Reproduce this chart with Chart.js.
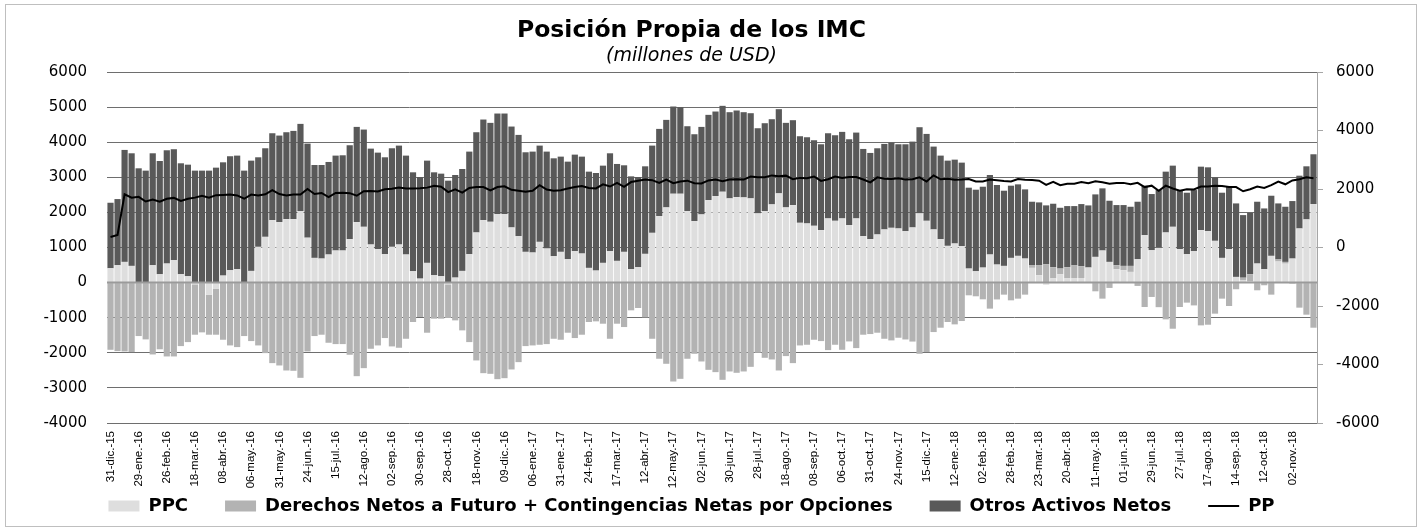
<!DOCTYPE html>
<html>
<head>
<meta charset="utf-8">
<script src="https://cdn.jsdelivr.net/npm/chart.js@4.4.1/dist/chart.umd.min.js"></script>
<style>
  html, body { margin: 0; padding: 0; background: #ffffff; }
  #wrap { width: 1423px; height: 531px; }
</style>
</head>
<body>
<div id="wrap"><canvas id="c" width="1423" height="531"></canvas></div>
<script>
// Tick labels shown on the category axis (every 4th observation)
const tickLabels = ['31-dic.-15','29-ene.-16','26-feb.-16','18-mar.-16','08-abr.-16','06-may.-16','31-may.-16','24-jun.-16','15-jul.-16','12-ago.-16','02-sep.-16','30-sep.-16','28-oct.-16','18-nov.-16','09-dic.-16','06-ene.-17','31-ene.-17','24-feb.-17','17-mar.-17','12-abr.-17','12-may.-17','02-jun.-17','30-jun.-17','28-jul.-17','18-ago.-17','08-sep.-17','06-oct.-17','31-oct.-17','24-nov.-17','15-dic.-17','12-ene.-18','02-feb.-18','28-feb.-18','23-mar.-18','20-abr.-18','11-may.-18','01-jun.-18','29-jun.-18','27-jul.-18','17-ago.-18','14-sep.-18','12-oct.-18','02-nov.-18'];

// PPC (millones de USD)
const ppc = [409,495,590,476,0,0,495,238,543,638,
238,181,-50,0,-343,-171,200,352,381,0,
333,1019,1304,1780,1723,1809,1809,2037,1280,704,
685,800,914,914,1238,1723,1590,1085,952,809,
1019,1085,800,324,114,562,210,181,-50,143,
333,809,1428,1780,1733,1952,1952,1571,1323,876,
857,1161,971,752,876,666,895,828,419,343,
562,895,619,876,381,438,819,1418,1894,2142,
2532,2532,2037,1752,1942,2351,2466,2589,2399,2437,
2427,2399,1971,2037,2228,2542,2142,2209,1704,1685,
1619,1495,1828,1761,1828,1638,1828,1323,1238,1371,
1514,1561,1542,1466,1571,1971,1761,1514,1238,1047,
1114,1038,400,324,428,800,514,476,704,762,
685,420,210,-60,120,240,120,130,130,430,
733,914,590,381,352,305,666,1352,923,990,
1428,1590,952,809,895,1495,1466,1190,704,952,
162,60,30,543,381,762,600,540,685,1542,
1800,2237];

// Derechos Netos a Futuro + Contingencias Netas por Opciones
const derechos = [-1914,-1952,-1961,-1980,-1523,-1618,-2047,-1900,-2104,-2104,
-1809,-1695,-1435,-1418,-1142,-1314,-1628,-1790,-1837,-1523,
-1666,-1790,-2009,-2294,-2361,-2504,-2513,-2713,-1961,-1523,
-1485,-1714,-1752,-1752,-2056,-2666,-2437,-1885,-1790,-1580,
-1818,-1856,-1600,-1123,-980,-1428,-1028,-1028,-959,-1076,
-1361,-1695,-2218,-2580,-2599,-2751,-2723,-2475,-2266,-1809,
-1790,-1771,-1752,-1600,-1628,-1428,-1580,-1485,-1123,-1104,
-1171,-1600,-1171,-1266,-790,-724,-990,-1600,-2170,-2313,
-2818,-2742,-2170,-2028,-2247,-2485,-2551,-2770,-2532,-2570,
-2532,-2400,-2000,-2142,-2190,-2504,-2094,-2294,-1790,-1771,
-1628,-1666,-1923,-1771,-1914,-1676,-1866,-1485,-1466,-1428,
-1600,-1647,-1571,-1620,-1680,-2028,-1980,-1409,-1285,-1123,
-1190,-1095,-362,-390,-476,-742,-480,-343,-505,-457,
-343,80,290,520,320,160,320,360,340,0,
-248,-457,-152,114,124,171,-95,-695,-409,-700,
-1047,-1314,-695,-571,-650,-1219,-1200,-885,-457,-666,
-190,80,210,-219,-76,-343,60,50,-30,-714,
-914,-1285];

// Otros Activos Netos
const otros = [1866,1885,3190,3208,3256,3190,3189,3227,3227,3162,
3161,3179,3190,3190,3190,3275,3227,3248,3237,3190,
3142,2551,2523,2475,2466,2475,2513,2485,2680,2647,
2666,2637,2704,2713,2675,2713,2770,2732,2751,2761,
2808,2818,2818,2818,2894,2913,2932,2923,2904,2922,
2904,2923,2856,2866,2818,2865,2865,2875,2885,2837,
2875,2742,2761,2789,2713,2780,2751,2761,2742,2780,
2770,2789,2761,2466,2646,2570,2494,2485,2485,2494,
2485,2466,2418,2475,2494,2428,2408,2447,2456,2466,
2428,2427,2427,2504,2427,2399,2409,2418,2466,2456,
2437,2446,2427,2437,2466,2446,2446,2485,2456,2456,
2437,2428,2399,2475,2446,2456,2475,2361,2380,2428,
2389,2380,2304,2323,2304,2265,2266,2142,2057,2037,
1971,1804,1785,1680,1807,1732,1740,1690,1767,1769,
1780,1771,1742,1714,1733,1685,1638,1409,1600,1647,
1733,1742,1685,1752,1742,1808,1818,1809,1857,1780,
2094,1783,1750,1761,1732,1713,1596,1571,1638,1504,
1513,1419];

// PP (eje derecho)
const pp = [361,428,1819,1704,1733,1572,1637,1565,1666,1696,
1590,1665,1705,1772,1705,1790,1799,1810,1781,1667,
1809,1780,1818,1961,1828,1780,1809,1809,1999,1828,
1866,1723,1866,1875,1857,1770,1923,1932,1913,1990,
2009,2047,2018,2019,2028,2047,2114,2076,1895,1989,
1876,2037,2066,2066,1952,2066,2094,1971,1942,1904,
1942,2132,1980,1941,1961,2018,2066,2104,2038,2019,
2161,2084,2209,2076,2237,2284,2323,2303,2209,2323,
2199,2256,2285,2199,2189,2294,2323,2266,2323,2333,
2323,2426,2398,2399,2465,2437,2457,2333,2380,2370,
2428,2275,2332,2427,2380,2408,2408,2323,2228,2399,
2351,2342,2370,2321,2337,2399,2256,2466,2333,2352,
2313,2323,2342,2257,2256,2323,2300,2275,2256,2342,
2313,2304,2285,2140,2247,2132,2180,2180,2237,2199,
2265,2228,2180,2209,2209,2161,2209,2066,2114,1937,
2114,2018,1942,1990,1987,2084,2084,2114,2104,2066,
2066,1923,1990,2085,2037,2132,2256,2161,2293,2332,
2399,2371];

const categories = ppc.map((v, i) => (i % 4 === 0 && tickLabels[i / 4]) ? tickLabels[i / 4] : '');

const frame = {
  id: 'frame',
  beforeDraw(chart) {
    const c = chart.ctx;
    c.save();
    c.fillStyle = '#ffffff';
    c.fillRect(0, 0, chart.width, chart.height);
    c.strokeStyle = '#bfbfbf';
    c.lineWidth = 1;
    c.strokeRect(5.5, 4.5, chart.width - 12, chart.height - 9);
    c.restore();
  }
};
const zeroLine = {
  id: 'zeroLine',
  afterDatasetsDraw(chart) {
    const y = chart.scales.y.getPixelForValue(0);
    const a = chart.chartArea;
    const c = chart.ctx;
    c.save();
    c.strokeStyle = '#9a9a9a';
    c.lineWidth = 2;
    c.beginPath();
    c.moveTo(a.left, y);
    c.lineTo(a.right, y);
    c.stroke();
    c.restore();
  }
};

const tickFont = { family: "'DejaVu Sans', Verdana, sans-serif", size: 15 };
const plainNum = (v) => String(v);

new Chart(document.getElementById('c'), {
  data: {
    labels: categories,
    datasets: [
      { type: 'bar', label: 'PPC', data: ppc, backgroundColor: '#dedede', pointStyle: 'rect', yAxisID: 'y', stack: 's', barPercentage: 0.88, categoryPercentage: 1 },
      { type: 'bar', label: 'Derechos Netos a Futuro + Contingencias Netas por Opciones', data: derechos, backgroundColor: '#b3b3b3', pointStyle: 'rect', yAxisID: 'y', stack: 's', barPercentage: 0.88, categoryPercentage: 1 },
      { type: 'bar', label: 'Otros Activos Netos', data: otros, backgroundColor: '#595959', pointStyle: 'rect', yAxisID: 'y', stack: 's', barPercentage: 0.88, categoryPercentage: 1 },
      { type: 'line', label: 'PP', data: pp, borderColor: '#000000', backgroundColor: '#000000', borderWidth: 2, pointRadius: 0, pointStyle: 'line', tension: 0, fill: false, yAxisID: 'y1', order: -1 }
    ]
  },
  options: {
    responsive: false,
    animation: false,
    devicePixelRatio: 1,
    layout: { padding: { left: 0, right: 40, top: 0, bottom: 6 } },
    plugins: {
      title: {
        display: true,
        text: 'Posición Propia de los IMC',
        color: '#000000',
        font: { family: "'DejaVu Sans', sans-serif", size: 23.5, weight: 'bold', lineHeight: 1.2 },
        padding: { top: 16.7, bottom: 0 }
      },
      subtitle: {
        display: true,
        text: '(millones de USD)',
        color: '#000000',
        font: { family: "'DejaVu Sans', sans-serif", size: 19, style: 'italic', weight: 'normal', lineHeight: 1.2 },
        padding: { top: 0, bottom: 4.3 }
      },
      legend: {
        position: 'bottom',
        labels: {
          usePointStyle: true,
          pointStyleWidth: 31,
          boxHeight: 11,
          padding: 37,
          color: '#000000',
          font: { family: "'DejaVu Sans', Verdana, sans-serif", size: 18, weight: 'bold' },
          sort: (a, b) => a.datasetIndex - b.datasetIndex
        }
      },
      tooltip: { enabled: false }
    },
    scales: {
      x: {
        stacked: true,
        grid: { display: false },
        border: { display: false },
        ticks: {
          autoSkip: false,
          maxRotation: 90,
          minRotation: 90,
          padding: 0,
          color: '#000000',
          font: { family: "'Liberation Sans', Arial, sans-serif", size: 11.5 }
        },
        afterFit: (s) => {
          s.height = 37;
          // let the rotated date labels extend below the (shortened) axis box
          s._computeLabelArea = () => undefined;
        }
      },
      y: {
        stacked: true,
        position: 'left',
        min: -4000,
        max: 6000,
        ticks: { stepSize: 1000, padding: 20, color: '#000000', font: tickFont, callback: plainNum },
        grid: {
          drawTicks: false,
          color: (ctx) => (ctx.tick && ctx.tick.value === 0) ? 'rgba(0,0,0,0)' : '#6e6e6e',
          lineWidth: 1
        },
        border: { display: false },
        afterFit: (s) => { s.width = 107; }
      },
      y1: {
        stacked: false,
        position: 'right',
        min: -6000,
        max: 6000,
        ticks: { stepSize: 2000, padding: 13, color: '#000000', font: tickFont, callback: plainNum },
        grid: { drawOnChartArea: false, drawTicks: true, tickLength: 6, color: '#a6a6a6' },
        border: { display: true, color: '#a6a6a6', width: 1 },
        afterFit: (s) => {
          s.width = 66;
          s._computeLabelArea = () => undefined;
        }
      }
    }
  },
  plugins: [frame, zeroLine]
});
</script>
</body>
</html>
